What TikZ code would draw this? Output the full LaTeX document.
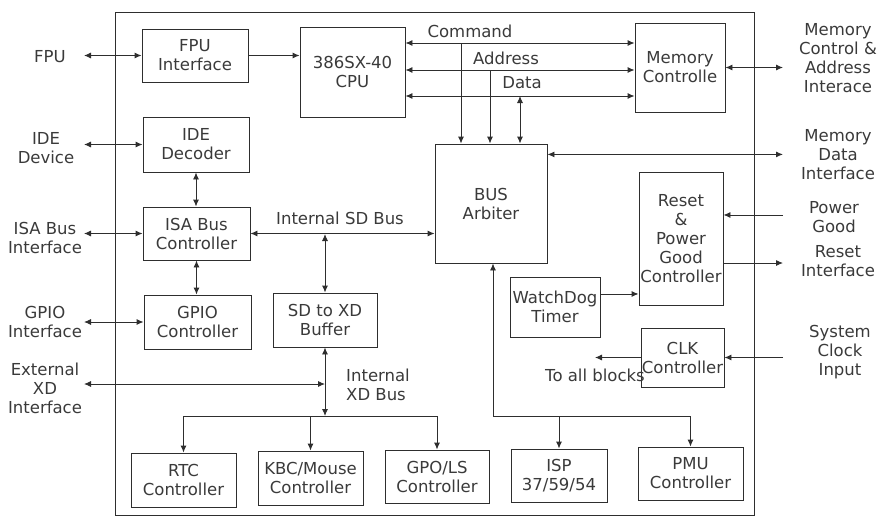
\documentclass[tikz,border=0pt]{standalone}
\usepackage{fontspec}
\setmainfont{DejaVu Sans}
\usepackage{xcolor}
\definecolor{socink}{HTML}{2E2E2E}
\definecolor{soctext}{HTML}{3A3A3A}
\usetikzlibrary{arrows.meta}
\tikzset{
  socbox/.style={draw=socink,line width=0.9pt,align=center,inner xsep=0pt,inner ysep=1pt,text=soctext,font=\fontsize{16.5}{19}\selectfont},
  socext/.style={align=center,inner sep=1pt,text=soctext,font=\fontsize{16.5}{19}\selectfont},
  soclabel/.style={inner sep=1pt,text=soctext,font=\fontsize{16.5}{19}\selectfont},
  socline/.style={draw=socink,line width=0.9pt},
  socflow/.style={socline,-{Latex[length=7pt,width=6pt]}},
  socboth/.style={socline,{Latex[length=7pt,width=6pt]}-{Latex[length=7pt,width=6pt]}},
}

\begin{document}
\begin{tikzpicture}[x=1pt,y=-1pt]
\useasboundingbox (0,0) rectangle (879,520);
 % chip outline and blocks
\node[draw=socink,line width=0.8pt,minimum width=639pt,minimum height=503pt,inner sep=0pt] (chip) at (434.5,263.5) {};
\node[socbox,minimum width=106pt,minimum height=53pt] (fpu) at (195,55.5) {FPU\\Interface};
\node[socbox,minimum width=105pt,minimum height=90pt] (cpu) at (352.5,72) {386SX-40\\CPU};
\node[socbox,minimum width=90pt,minimum height=89pt] (mc) at (680,67.5) {Memory\\Controlle};
\node[socbox,minimum width=106pt,minimum height=55pt] (ide) at (196,144.5) {IDE\\Decoder};
\node[socbox,minimum width=107pt,minimum height=53pt] (isa) at (196.5,233.5) {ISA Bus\\Controller};
\node[socbox,minimum width=112pt,minimum height=119pt] (arb) at (491,203.5) {BUS\\Arbiter};
\node[socbox,minimum width=84pt,minimum height=133pt] (rst) at (681,238.5) {Reset\\\&\\Power\\Good\\Controller};
\node[socbox,minimum width=107pt,minimum height=54pt] (gpio) at (197.5,322) {GPIO\\Controller};
\node[socbox,minimum width=104pt,minimum height=54pt] (sdxd) at (325,320) {SD to XD\\Buffer};
\node[socbox,minimum width=90pt,minimum height=60pt] (wdt) at (555,307) {WatchDog\\Timer};
\node[socbox,minimum width=83pt,minimum height=59pt] (clk) at (682.5,357.5) {CLK\\Controller};
\node[socbox,minimum width=105pt,minimum height=54pt] (rtc) at (183.5,480) {RTC\\Controller};
\node[socbox,minimum width=105pt,minimum height=54pt] (kbc) at (310.5,478) {KBC/Mouse\\Controller};
\node[socbox,minimum width=104pt,minimum height=53pt] (gpo) at (437,476.5) {GPO/LS\\Controller};
\node[socbox,minimum width=96pt,minimum height=53pt] (isp) at (559,475.5) {ISP\\37/59/54};
\node[socbox,minimum width=105pt,minimum height=53pt] (pmu) at (690.5,473.5) {PMU\\Controller};
 % outside signals
\node[socext] (fpuext) at (50,57) {FPU};
\node[socext] (ideext) at (46,148) {IDE\\Device};
\node[socext] (isaext) at (45,238) {ISA Bus\\Interface};
\node[socext] (gpioext) at (45,322) {GPIO\\Interface};
\node[socext] (xdext) at (45,388) {External\\XD\\Interface};
\node[socext] (mcext) at (838,58) {Memory\\Control \&\\Address\\Interace};
\node[socext] (mdext) at (838,155) {Memory\\Data\\Interface};
\node[socext] (pgext) at (834,217) {Power\\Good};
\node[socext] (rsext) at (838,261) {Reset\\Interface};
\node[socext] (ckext) at (840,352) {System\\Clock\\Input};
 % bus names
\node[soclabel] (cmdlbl) at (470,31) {Command};
\node[soclabel] (adrlbl) at (506,58) {Address};
\node[soclabel] (datlbl) at (522,83) {Data};
\node[soclabel] (sdlbl) at (340,218) {Internal SD Bus};
\node[soclabel,align=left] (xdlbl) at (378,385) {Internal\\XD Bus};
\node[soclabel] (alllbl) at (595,375) {To all blocks};
 % junctions
\coordinate (lrim) at (84,0);
\coordinate (rrim) at (783,0);
\coordinate (cmdj) at (461,43);
\coordinate (adrj) at (490,70);
\coordinate (datj) at (520,96);
\coordinate (sdj) at (325,234);
\coordinate (xdin) at (325,384);
\coordinate (xdj) at (325,416);
\coordinate (pj) at (493,416);
 % connectors
\draw[socboth] (fpu.west -| lrim) -- (fpu.west);
\draw[socboth] (ide.west -| lrim) -- (ide.west);
\draw[socboth] (isa.west -| lrim) -- (isa.west);
\draw[socboth] (gpio.west -| lrim) -- (gpio.west);
\draw[socboth] (xdin -| lrim) -- (xdin);
\draw[socflow] (fpu.east) -- (fpu.east -| cpu.west);
\draw[socboth] (cpu.east |- cmdj) -- (mc.west |- cmdj);
\draw[socboth] (cpu.east |- adrj) -- (mc.west |- adrj);
\draw[socboth] (cpu.east |- datj) -- (mc.west |- datj);
\draw[socflow] (cmdj) -- (cmdj |- arb.north);
\draw[socflow] (adrj) -- (adrj |- arb.north);
\draw[socboth] (datj) -- (datj |- arb.north);
\draw[socboth] (mc.east) -- (mc.east -| rrim);
\draw[socboth] (arb.41) -- (arb.41 -| rrim);
\draw[socflow] (rst.29 -| rrim) -- (rst.29);
\draw[socflow] (rst.-30) -- (rst.-30 -| rrim);
\draw[socflow] (clk.east -| rrim) -- (clk.east);
\draw[socflow] (clk.west) -- (clk.west -| alllbl.north);
\draw[socflow] (wdt.16) -- (wdt.16 -| rst.west);
\draw[socboth] (ide.south) -- (ide.south |- isa.north);
\draw[socboth] (isa.south) -- (isa.south |- gpio.north);
\draw[socboth] (isa.east) -- (isa.east -| arb.west);
\draw[socboth] (sdj) -- (sdxd.north);
\draw[socboth] (sdxd.south) -- (xdj);
\draw[socflow] (xdj) -| (rtc.north);
\draw[socflow] (xdj) -| (gpo.north);
\draw[socflow] (xdj -| kbc.north) -- (kbc.north);
\draw[socflow] (pj) -- (pj |- arb.south);
\draw[socflow] (pj) -| (pmu.north);
\draw[socflow] (pj -| isp.north) -- (isp.north);
\end{tikzpicture}
\end{document}
